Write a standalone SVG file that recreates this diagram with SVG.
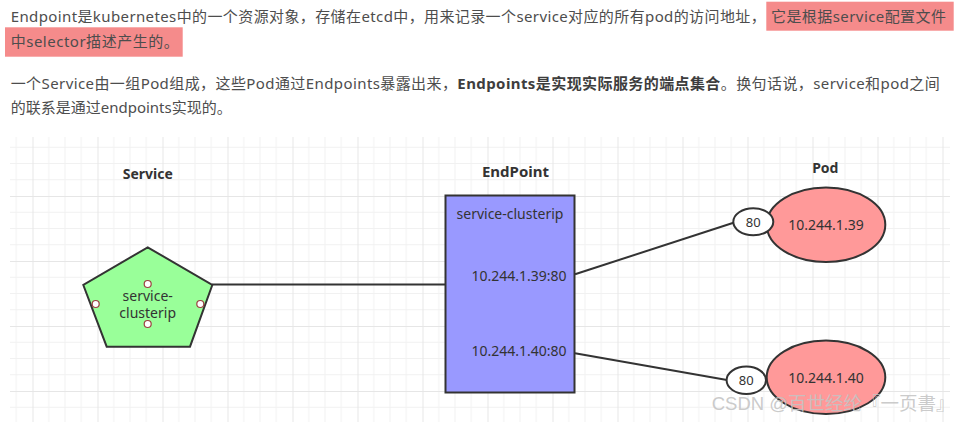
<svg xmlns="http://www.w3.org/2000/svg" width="966" height="422" viewBox="0 0 966 422">
<style>
.p{font-family:"Noto Sans","Noto Sans CJK SC",sans-serif;font-size:15px;fill:#4d4d4d}
.b{font-weight:bold;fill:#3d3d3d}
.t{font-family:"Noto Sans","Noto Sans CJK SC",sans-serif;fill:#333;text-anchor:middle}
.h{font-weight:bold;font-size:14px}
.n{font-size:14px}
.s{font-size:13px}
.edge{stroke:#333;stroke-width:2;fill:none}
.shape{stroke:#333;stroke-width:2}
.port{fill:#fff;stroke:#9b4040;stroke-width:1.2}
</style>
<defs>
<pattern id="grid" patternUnits="userSpaceOnUse" x="32.5" y="1" width="65" height="65">
<path d="M16.25 0V65M32.5 0V65M48.75 0V65M0 16.25H65M0 32.5H65M0 48.75H65" stroke="#f1f1f1" stroke-width="1" fill="none"/>
<path d="M0.5 0V65M0 0.5H65" stroke="#e6e6e6" stroke-width="1" fill="none"/>
</pattern>
</defs>
<rect width="966" height="422" fill="#fff"/>
<g id="text">
<rect x="766.3" y="1.7" width="187.4" height="29" fill="#f58b8b"/>
<rect x="5" y="27.3" width="177.7" height="29.4" fill="#f58b8b"/>
<text class="p" x="10.7" y="22" textLength="755" lengthAdjust="spacing">Endpoint是kubernetes中的一个资源对象，存储在etcd中，用来记录一个service对应的所有pod的访问地址，</text>
<text class="p" x="771" y="22" textLength="175" lengthAdjust="spacing">它是根据service配置文件</text>
<text class="p" x="10.7" y="46.7" textLength="168" lengthAdjust="spacing">中selector描述产生的。</text>
<text class="p" x="10.7" y="89.3" textLength="929" lengthAdjust="spacing">一个Service由一组Pod组成，这些Pod通过Endpoints暴露出来，<tspan class="b">Endpoints是实现实际服务的端点集合</tspan>。换句话说，service和pod之间</text>
<text class="p" x="10.7" y="113.3" textLength="221" lengthAdjust="spacing">的联系是通过endpoints实现的。</text>
</g>
<rect x="10" y="137" width="940" height="285" fill="url(#grid)"/>
<g id="connectors">
<line class="edge" x1="212" y1="284.5" x2="445" y2="284.5"/>
<line class="edge" x1="575" y1="274.3" x2="733.5" y2="222.7"/>
<line class="edge" x1="575" y1="353.3" x2="727" y2="380"/>
</g>
<g id="service">
<text class="t h" x="147.8" y="179">Service</text>
<polygon class="shape" points="147.7,247.3 212.3,285 190,346.7 106.7,346.7 83.3,285" fill="#99ff99"/>
<text class="t n"><tspan x="147.7" y="300.7">service-</tspan><tspan x="147.7" y="317.5">clusterip</tspan></text>
<circle class="port" cx="147.7" cy="284" r="3.5"/>
<circle class="port" cx="95.7" cy="304" r="3.5"/>
<circle class="port" cx="200.3" cy="304" r="3.5"/>
<circle class="port" cx="147.7" cy="324" r="3.5"/>
</g>
<g id="endpoint">
<text class="t h" x="515.5" y="176.7" style="font-size:15px">EndPoint</text>
<rect class="shape" x="445.5" y="195.5" width="129" height="197" fill="#9999ff"/>
<text class="t n" x="510" y="218.5">service-clusterip</text>
<text class="t n" x="519" y="280.7">10.244.1.39:80</text>
<text class="t n" x="519" y="356">10.244.1.40:80</text>
</g>
<g id="pod1">
<text class="t h" x="825.3" y="173.3">Pod</text>
<ellipse class="shape" cx="826" cy="224.7" rx="59.3" ry="37.3" fill="#ff9999"/>
<text class="t n" x="826" y="230">10.244.1.39</text>
<ellipse class="shape" cx="753.3" cy="221.8" rx="20" ry="13.5" fill="#fff"/>
<text class="t s" x="753.3" y="226.5">80</text>
</g>
<g id="pod2">
<ellipse class="shape" cx="826" cy="377.3" rx="59.3" ry="36.7" fill="#ff9999"/>
<text class="t n" x="826" y="383.3">10.244.1.40</text>
<ellipse class="shape" cx="746.3" cy="380.3" rx="19.7" ry="13.7" fill="#fff"/>
<text class="t s" x="746.3" y="385">80</text>
</g>
<text x="711.7" y="410" style="font-family:'Liberation Sans','Noto Sans CJK SC',sans-serif;font-size:18.5px;fill:#c4c4c4;fill-opacity:0.9">CSDN @百世经纶『一页書』</text>
</svg>
